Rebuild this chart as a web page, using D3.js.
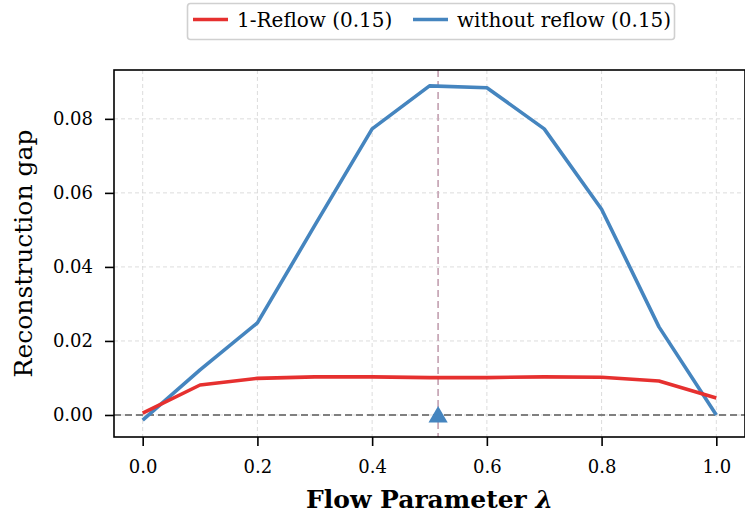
<!DOCTYPE html>
<html>
<head>
<meta charset="utf-8">
<script src="https://cdn.jsdelivr.net/npm/d3@7"></script>
<style>
  body { margin: 0; background: #fff; }
  text { font-family: "DejaVu Serif", serif; }
</style>
</head>
<body>
<svg id="chart" width="745" height="518"></svg>
<script>
// flow parameter values
var lambdas = [0.0, 0.1, 0.2, 0.3, 0.4, 0.5, 0.6, 0.7, 0.8, 0.9, 1.0];
// reconstruction gap per series
var reflow = [0.0005, 0.0081, 0.0099, 0.0103, 0.0103, 0.0101, 0.0101, 0.0103, 0.0102, 0.0092, 0.0046];
var noReflow = [-0.0014, 0.0122, 0.0249, 0.0512, 0.0773, 0.0889, 0.0884, 0.0773, 0.0556, 0.0238, 0.0];
var seriesNames = ["1-Reflow (0.15)", "without reflow (0.15)"];
var xTicks = [0.0, 0.2, 0.4, 0.6, 0.8, 1.0];
var yTicks = [0.00, 0.02, 0.04, 0.06, 0.08];
var markerLambda = 0.515;

var red = "#e6302f", blue = "#4585bf";

var margin = {top: 70, right: 0, bottom: 81, left: 114},
  width = 745 - margin.left - margin.right,
  height = 518 - margin.top - margin.bottom;

var svg = d3.select("#chart");
var g = svg.append("g").attr("transform", "translate(" + margin.left + "," + margin.top + ")");

var x = d3.scaleLinear().domain([-0.05, 1.05]).range([0, width]);
var y = d3.scaleLinear().domain([-0.00595, 0.0932]).range([height, 0]);

// grid
g.append("g").selectAll("line").data(xTicks).join("line")
  .attr("x1", d => x(d)).attr("x2", d => x(d)).attr("y1", 0).attr("y2", height)
  .attr("stroke", "#d8d8d8").attr("stroke-width", 0.9).attr("stroke-dasharray", "4,3");
g.append("g").selectAll("line").data(yTicks).join("line")
  .attr("x1", 0).attr("x2", width).attr("y1", d => y(d)).attr("y2", d => y(d))
  .attr("stroke", "#d8d8d8").attr("stroke-width", 0.9).attr("stroke-dasharray", "4,3");

// zero line
g.append("line")
  .attr("x1", 0).attr("x2", width).attr("y1", y(0)).attr("y2", y(0))
  .attr("stroke", "#808080").attr("stroke-width", 1.8).attr("stroke-dasharray", "7,4");

// vertical marker line
g.append("line")
  .attr("x1", x(markerLambda)).attr("x2", x(markerLambda)).attr("y1", 0).attr("y2", height)
  .attr("stroke", "#c9a9b8").attr("stroke-width", 1.8).attr("stroke-dasharray", "7,4");

var line = d3.line()
  .x(d => x(d[0]))
  .y(d => y(d[1]));

g.append("path")
  .datum(d3.zip(lambdas, noReflow))
  .attr("fill", "none").attr("stroke", blue).attr("stroke-width", 3.6)
  .attr("stroke-linejoin", "round")
  .attr("d", line);

g.append("path")
  .datum(d3.zip(lambdas, reflow))
  .attr("fill", "none").attr("stroke", red).attr("stroke-width", 3.6)
  .attr("stroke-linejoin", "round")
  .attr("d", line);

// triangle marker
g.append("path")
  .attr("d", d3.symbol().type(d3.symbolTriangle).size(160))
  .attr("transform", "translate(" + x(markerLambda) + "," + (y(0) + 2) + ")")
  .attr("fill", blue);

// axes
var xAxis = g.append("g").attr("transform", "translate(0," + height + ")")
  .call(d3.axisBottom(x).tickValues(xTicks).tickFormat(d3.format(".1f")).tickSize(9).tickPadding(14));
var yAxis = g.append("g")
  .call(d3.axisLeft(y).tickValues(yTicks).tickFormat(d3.format(".2f")).tickSize(9).tickPadding(12));
[xAxis, yAxis].forEach(function(a) {
  a.select(".domain").remove();
  a.selectAll(".tick line").attr("stroke", "#000").attr("stroke-width", 1.6);
  a.selectAll(".tick text").attr("font-family", "DejaVu Serif").attr("font-size", 18).attr("fill", "#000");
});

// spines
g.append("rect").attr("x", 0).attr("y", 0).attr("width", width).attr("height", height)
  .attr("fill", "none").attr("stroke", "#000").attr("stroke-width", 1.6);

// labels
var xl = svg.append("text")
  .attr("x", margin.left + width / 2).attr("y", 508)
  .attr("text-anchor", "middle").attr("font-size", 25).attr("font-weight", "bold");
xl.append("tspan").text("Flow Parameter ");
xl.append("tspan").attr("font-style", "italic").text("λ");
svg.append("text")
  .attr("transform", "translate(32," + (margin.top + height / 2) + ") rotate(-90)")
  .attr("text-anchor", "middle").attr("font-size", 25)
  .text("Reconstruction gap");

// legend
var legend = svg.append("g");
legend.append("rect")
  .attr("x", 187.5).attr("y", 3.5).attr("width", 487).attr("height", 36).attr("rx", 3)
  .attr("fill", "#fff").attr("stroke", "#d0d0d0").attr("stroke-width", 1.6);
var legX = [193, 413];
[red, blue].forEach(function(c, i) {
  legend.append("line")
    .attr("x1", legX[i]).attr("x2", legX[i] + 35).attr("y1", 19.5).attr("y2", 19.5)
    .attr("stroke", c).attr("stroke-width", 3.6);
  legend.append("text")
    .attr("x", legX[i] + 44).attr("y", 27)
    .attr("font-size", 20).attr("fill", "#000")
    .text(seriesNames[i]);
});
</script>
</body>
</html>
